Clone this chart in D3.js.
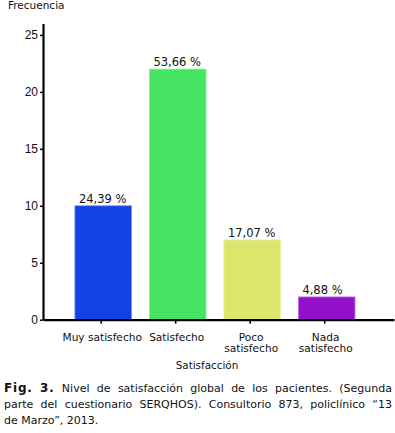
<!DOCTYPE html>
<html>
<head>
<meta charset="utf-8">
<script src="https://cdn.jsdelivr.net/npm/d3@7"></script>
<style>
  body { margin: 0; background: #fff; }
  svg { display: block; font-family: "DejaVu Sans", Verdana, sans-serif; }
</style>
</head>
<body>
<svg id="chart"></svg>
<script>
// datos
const categorias = ["Muy satisfecho", "Satisfecho", "Poco satisfecho", "Nada satisfecho"];
const etiquetasEje = [["Muy satisfecho"], ["Satisfecho"], ["Poco", "satisfecho"], ["Nada", "satisfecho"]];
const frecuencias = [10, 22, 7, 2];
const porcentajes = ["24,39 %", "53,66 %", "17,07 %", "4,88 %"];
const colores = ["#1242e6", "#45e463", "#dde56b", "#9312c9"];
const bordes = ["#6f8ef0", "#8cf09c", "#ecf0a6", "#c07ae0"];
const yTicks = [0, 5, 10, 15, 20, 25];
const leyenda = [
  [{t: "Fig.", b: true}, {t: "3.", b: true}, "Nivel", "de", "satisfacción", "global", "de", "los", "pacientes.", "(Segunda"],
  ["parte", "del", "cuestionario", "SERQHOS).", "Consultorio", "873,", "policlínico", "“13"],
  ["de", "Marzo”,", "2013."]
];

const W = 395, H = 433;
const svg = d3.select("#chart").attr("width", W).attr("height", H);

const x0 = 43, x1 = 394, y0 = 319.7;

const y = d3.scaleLinear().domain([0, 26]).range([y0, y0 - 26 * 11.39]);

const x = d3.scaleBand()
  .domain(categorias)
  .range([x0, x1])
  .paddingInner(0.24)
  .paddingOuter(0.476)
  .align(0.45);

// barras
svg.append("g").selectAll("rect")
  .data(categorias)
  .join("rect")
    .attr("x", d => x(d))
    .attr("y", (d, i) => y(frecuencias[i]))
    .attr("width", x.bandwidth())
    .attr("height", (d, i) => y(0) - y(frecuencias[i]))
    .attr("fill", (d, i) => colores[i])
    .attr("stroke", (d, i) => bordes[i])
    .attr("stroke-width", 0.8);

// porcentajes sobre las barras
svg.append("g").selectAll("text")
  .data(categorias)
  .join("text")
    .attr("x", d => x(d) + 4)
    .attr("y", (d, i) => y(frecuencias[i]) - 3)
    .attr("font-size", 11.5)
    .attr("fill", "#111")
    .text((d, i) => porcentajes[i]);

// eje Y
const yAxis = svg.append("g")
  .attr("transform", `translate(${x0},0)`)
  .call(d3.axisLeft(y).tickValues(yTicks).tickSize(3).tickSizeOuter(0).tickPadding(2));
yAxis.select(".domain").attr("stroke-width", 2.2);
yAxis.selectAll(".tick line").attr("stroke-width", 1.5);
yAxis.selectAll(".tick text").attr("font-size", 12).attr("font-family", null).attr("fill", "#111");

// eje X
const xAxis = svg.append("g")
  .attr("transform", `translate(0,${y0})`)
  .call(d3.axisBottom(x).tickSize(4).tickSizeOuter(0).tickFormat(""));
xAxis.select(".domain").attr("stroke-width", 2.2);
xAxis.selectAll(".tick line").attr("stroke-width", 1.5).attr("transform", "translate(-2,0)");

const cat = svg.append("g").selectAll("text")
  .data(categorias)
  .join("text")
    .attr("x", d => x(d) + x.bandwidth() / 2 - 1)
    .attr("y", 341)
    .attr("text-anchor", "middle")
    .attr("font-size", 10.6)
    .attr("fill", "#111");
cat.selectAll("tspan")
  .data((d, i) => etiquetasEje[i])
  .join("tspan")
    .attr("x", function() { return d3.select(this.parentNode).attr("x"); })
    .attr("dy", (d, j) => j === 0 ? 0 : 11)
    .text(d => d);

// titulos
svg.append("text")
  .attr("x", 207).attr("y", 369)
  .attr("text-anchor", "middle")
  .attr("font-size", 10.4)
  .attr("fill", "#111")
  .text("Satisfacción");

svg.append("text")
  .attr("x", 8).attr("y", 8.5)
  .attr("font-size", 10.5)
  .attr("fill", "#111")
  .text("Frecuencia");

// pie de figura, justificado
const capLeft = 4, capRight = 392, capSize = 11;
leyenda.forEach((linea, li) => {
  const g = svg.append("g");
  const base = 392 + li * 16;
  const words = linea.map(w => typeof w === "string" ? {t: w, b: false} : w);
  const nodes = words.map(w => g.append("text")
    .attr("y", base)
    .attr("font-size", w.b ? 12 : capSize)
    .attr("font-weight", w.b ? "bold" : "normal")
    .attr("letter-spacing", w.b ? 0.8 : 0)
    .attr("fill", "#111")
    .text(w.t));
  const widths = nodes.map(n => n.node().getComputedTextLength());
  const total = d3.sum(widths);
  const justify = li < leyenda.length - 1;
  const gap = justify ? (capRight - capLeft - total) / (words.length - 1) : capSize * 0.32;
  let cx = capLeft;
  nodes.forEach((n, k) => {
    n.attr("x", cx);
    cx += widths[k] + gap;
  });
});
</script>
</body>
</html>
